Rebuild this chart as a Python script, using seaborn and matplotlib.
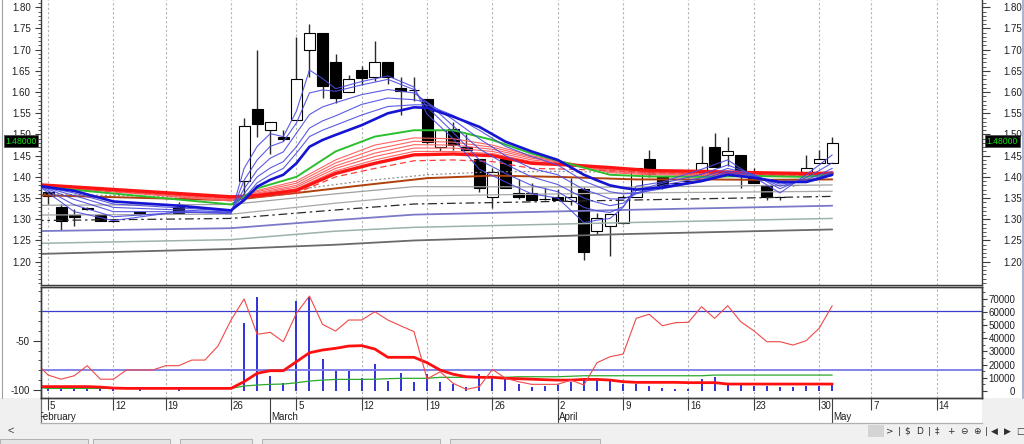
import numpy as np
import matplotlib
matplotlib.use("Agg")
import matplotlib.pyplot as plt
from matplotlib.ticker import FixedLocator, FormatStrFormatter
from matplotlib.patches import Rectangle
from matplotlib.transforms import blended_transform_factory
import seaborn as sns

nan = np.nan

# ---------------- data ----------------
DAY = list(range(61))
OPEN = [1.365, 1.330, 1.310, 1.327, 1.310, 1.295, nan, 1.316, nan, nan, 1.330, nan, nan, nan, nan,
        1.390, 1.560, 1.510, 1.495, 1.535, 1.700, 1.740, 1.670, 1.600, 1.652, 1.635, 1.670, 1.610, 1.605,
        1.583, 1.470, 1.513, 1.471, 1.442, 1.352, 1.442, 1.362, 1.361, 1.347, 1.352, 1.343, 1.372, 1.272, 1.284, 1.292,
        1.353, 1.442, 1.400, 1.385, 1.390, 1.405, 1.471, 1.452, 1.452, 1.408, 1.382, 1.352, 1.380, 1.411, 1.432, 1.432]
HIGH = [1.365, 1.335, 1.325, 1.330, 1.310, 1.297, nan, 1.318, nan, nan, 1.340, nan, nan, nan, nan,
        1.540, 1.700, 1.530, 1.510, 1.730, 1.760, 1.740, 1.690, 1.640, 1.662, 1.720, 1.670, 1.635, 1.635,
        1.583, 1.510, 1.530, 1.500, 1.442, 1.420, 1.447, 1.395, 1.385, 1.373, 1.371, 1.398, 1.377, 1.315, 1.312, 1.358,
        1.422, 1.463, 1.400, 1.388, 1.392, 1.473, 1.503, 1.495, 1.452, 1.420, 1.382, 1.353, 1.382, 1.452, 1.463, 1.493]
LOW = [1.335, 1.275, 1.285, 1.322, 1.295, 1.293, nan, 1.310, nan, nan, 1.315, nan, nan, nan, nan,
       1.355, 1.495, 1.455, 1.485, 1.535, 1.635, 1.585, 1.575, 1.600, 1.617, 1.625, 1.620, 1.545, 1.580,
       1.478, 1.460, 1.463, 1.463, 1.365, 1.326, 1.373, 1.347, 1.346, 1.346, 1.346, 1.334, 1.204, 1.265, 1.213, 1.290,
       1.353, 1.400, 1.372, 1.383, 1.388, 1.405, 1.424, 1.425, 1.373, 1.385, 1.345, 1.345, 1.378, 1.411, 1.432, 1.432]
CLOSE = [1.355, 1.295, 1.305, 1.325, 1.295, 1.295, nan, 1.314, nan, nan, 1.315, nan, nan, nan, nan,
         1.520, 1.525, 1.530, 1.490, 1.630, 1.740, 1.615, 1.585, 1.630, 1.634, 1.670, 1.635, 1.603, 1.605,
         1.483, 1.510, 1.475, 1.463, 1.373, 1.412, 1.373, 1.353, 1.346, 1.347, 1.346, 1.352, 1.222, 1.304, 1.312, 1.353,
         1.422, 1.406, 1.375, 1.385, 1.390, 1.432, 1.424, 1.462, 1.410, 1.385, 1.353, 1.352, 1.380, 1.422, 1.442, 1.480]
VOLUME = [3500, 3000, 3000, 2500, 3000, 1500, 0, 1500, 0, 0, 2000, 0, 0, 0, 0,
          51900, 71800, 11200, 6100, 68700, 71800, 24200, 15300, 15300, 9400, 20400, 7400, 13700, 6900,
          12700, 6900, 5100, 2600, 12500, 10700, 9400, 5100, 2600, 3600, 4400, 6900, 8200, 8200, 7400, 5100,
          5100, 3600, 1800, 1000, 1000, 8900, 10700, 5600, 5100, 3600, 3600, 3100, 2600, 3600, 3600, 5100]

# short-term (blue) averages
B_IDX = [-1, 2, 5, 10, 14, 15, 16, 17, 18, 19, 20, 21, 22, 24, 26, 28, 29, 31, 33, 35, 37, 39, 41, 42, 43, 44,
         45, 47, 50, 52, 54, 56, 58, 59, 60]
BLUE1 = [1.385, 1.318, 1.297, 1.318, 1.313, 1.420, 1.472, 1.502, 1.495, 1.555, 1.652, 1.632, 1.608, 1.625, 1.638,
         1.612, 1.548, 1.490, 1.418, 1.388, 1.360, 1.350, 1.292, 1.298, 1.302, 1.328, 1.378, 1.388, 1.418, 1.440,
         1.400, 1.362, 1.405, 1.428, 1.452]
BLUE2 = [1.384, 1.334, 1.306, 1.316, 1.315, 1.392, 1.440, 1.472, 1.483, 1.527, 1.598, 1.605, 1.602, 1.617, 1.630,
         1.606, 1.565, 1.505, 1.440, 1.408, 1.380, 1.365, 1.328, 1.320, 1.316, 1.330, 1.368, 1.385, 1.406, 1.428,
         1.405, 1.372, 1.398, 1.415, 1.433]
BLUE3 = [1.383, 1.347, 1.318, 1.318, 1.316, 1.372, 1.416, 1.444, 1.459, 1.503, 1.547, 1.565, 1.575, 1.594, 1.606,
         1.598, 1.576, 1.520, 1.466, 1.430, 1.400, 1.382, 1.350, 1.340, 1.332, 1.338, 1.362, 1.380, 1.398, 1.420,
         1.405, 1.378, 1.393, 1.405, 1.420]
BLUE4 = [1.382, 1.356, 1.328, 1.322, 1.317, 1.360, 1.400, 1.421, 1.436, 1.471, 1.515, 1.532, 1.544, 1.571, 1.586,
         1.582, 1.576, 1.535, 1.490, 1.450, 1.420, 1.405, 1.370, 1.360, 1.348, 1.348, 1.360, 1.376, 1.393, 1.414,
         1.403, 1.383, 1.390, 1.400, 1.413]
BLUE5 = [1.381, 1.362, 1.336, 1.327, 1.319, 1.350, 1.386, 1.405, 1.420, 1.456, 1.495, 1.510, 1.522, 1.546, 1.566,
         1.570, 1.570, 1.545, 1.510, 1.472, 1.448, 1.428, 1.390, 1.378, 1.365, 1.360, 1.362, 1.372, 1.390, 1.410,
         1.400, 1.387, 1.388, 1.398, 1.408]
BLUE_THICK = [1.380, 1.367, 1.342, 1.332, 1.321, 1.345, 1.377, 1.393, 1.405, 1.432, 1.471, 1.487, 1.499, 1.522,
              1.550, 1.564, 1.563, 1.542, 1.518, 1.483, 1.460, 1.440, 1.405, 1.392, 1.380, 1.374, 1.370, 1.375,
              1.390, 1.405, 1.398, 1.388, 1.388, 1.396, 1.405]

# long-term (red / green) averages
R_IDX = [-1, 14, 16, 19, 22, 25, 28, 31, 34, 37, 40, 43, 46, 50, 54, 58, 60]
GREEN = [1.378, 1.335, 1.373, 1.400, 1.460, 1.495, 1.510, 1.510, 1.487, 1.455, 1.430, 1.405, 1.401, 1.400, 1.402, 1.400, 1.406]
RED1 = [1.379, 1.343, 1.368, 1.390, 1.440, 1.475, 1.492, 1.490, 1.475, 1.450, 1.432, 1.410, 1.405, 1.403, 1.404, 1.402, 1.407]
RED2 = [1.380, 1.345, 1.365, 1.385, 1.433, 1.465, 1.484, 1.482, 1.470, 1.447, 1.432, 1.413, 1.407, 1.405, 1.405, 1.403, 1.407]
RED3 = [1.380, 1.347, 1.362, 1.380, 1.426, 1.456, 1.476, 1.475, 1.465, 1.444, 1.431, 1.416, 1.409, 1.407, 1.406, 1.404, 1.407]
RED4 = [1.381, 1.349, 1.360, 1.376, 1.420, 1.448, 1.468, 1.468, 1.460, 1.440, 1.430, 1.418, 1.411, 1.409, 1.407, 1.405, 1.408]
RED5 = [1.381, 1.351, 1.358, 1.372, 1.414, 1.440, 1.460, 1.460, 1.455, 1.436, 1.428, 1.420, 1.413, 1.411, 1.408, 1.406, 1.408]
RED_THICK = [1.382, 1.353, 1.356, 1.368, 1.408, 1.432, 1.452, 1.454, 1.450, 1.432, 1.428, 1.422, 1.415, 1.413, 1.410, 1.408, 1.409]
RED_DASHED = [1.376, 1.350, 1.352, 1.362, 1.400, 1.420, 1.438, 1.440, 1.436, 1.420, 1.418, 1.415, 1.410, 1.408, 1.405, 1.403, 1.404]

M_IDX = [-1, 14, 19, 24, 29, 34, 39, 45, 50, 55, 60]
BROWN = [1.357, 1.345, 1.362, 1.380, 1.397, 1.403, 1.400, 1.394, 1.394, 1.393, 1.394]
DOTTED = [1.360, 1.350, 1.370, 1.390, 1.405, 1.412, 1.413, 1.410, 1.405, 1.402, 1.402]

L_IDX = [-1, 14, 22, 28, 44, 60]
GRAY_A = [1.333, 1.335, 1.360, 1.377, 1.376, 1.381]
GRAY_B = [1.310, 1.312, 1.338, 1.355, 1.362, 1.366]
DASHDOT = [1.297, 1.302, 1.322, 1.336, 1.345, 1.354]
SLATE = [1.272, 1.279, 1.298, 1.311, 1.322, 1.332]
GRAYGREEN = [1.243, 1.252, 1.272, 1.281, 1.292, 1.302]
DARKGRAY = [1.218, 1.230, 1.240, 1.250, 1.265, 1.276]

# oscillator panel
OSC_IDX = [-0.5] + DAY
WPR = [-78, -84.8, -89, -85.5, -75.3, -89, -89, -79.7, -79.7, -79.7, -75.3, -75.3, -69.6, -69.6, -55.4, -29,
       -7.7, -43.5, -41.5, -51, -22.2, -4.7, -33.4, -40.2, -29, -29, -20.6, -29, -35, -40.8,
       -88.8, -81.4, -93.2, -99.3, -96.6, -79, -88.1, -91.5, -94.2, -94.2, -94.2, -89.9, -94.9, -72.3, -66.2,
       -63.5, -27.3, -23.2, -34.8, -31.7, -31.3, -15.5, -27.3, -14.5, -30.7, -39.9, -51, -51, -54.4, -50, -37.4, -14.5]
WPR_MA = [-96.5, -96.5, -96.5, -96.5, -96.5, -97, -98, -98.3, -98.3, -98.3, -98.3, -98.3, -98.3, -98.3, -98.3, -98.3,
          -91.5, -83, -80.4, -80.4, -71.3, -62.2, -59.4, -57.7, -55.4, -55, -58.4, -66.8, -66.8, -66.8,
          -72.3, -79.7, -84, -86.5, -87.1, -87.1, -88.1, -88.5, -89, -89.5, -89.9, -89.9, -89.2, -89.2, -89.9,
          -91.5, -92.2, -92.2, -92.2, -92.2, -92.5, -92.5, -92.5, -93.9, -93.9, -93.9, -93.9, -93.9, -93.9, -93.9,
          -93.9, -93.9]
WPR_SLOW = [-97.7, -98.3, -98.3, -98.3, -98.3, -98.3, -98.3, -98.3, -98.3, -98.3, -98.3, -98.3, -98.3, -98.3, -98.3, -98.3,
            -95.9, -94.9, -94.2, -93.9, -92.6, -90.9, -89.9, -89.2, -89.2, -89.2, -89, -88.5, -88.1, -88.1,
            -88.1, -87.1, -87.1, -87.1, -87.1, -87.1, -87.1, -86.5, -86.5, -86.5, -86.5, -86, -85.5, -85.5, -85.5,
            -85.5, -85.5, -85.5, -85.5, -85.5, -85.5, -85.5, -84.8, -84.8, -84.8, -84.8, -84.8, -84.8, -84.8, -84.8,
            -84.8, -84.8]
OSC_LEVELS = [-20, -80]

WEEK_IDX = [0, 5, 9, 14, 19, 24, 29, 34, 39, 44, 49, 54, 59, 63, 68]
WEEK_LABELS = ["5", "12", "19", "26", "5", "12", "19", "26", "2", "9", "16", "23", "30", "7", "14"]
MONTH_IDX = [-0.95, 17, 39, 60]
MONTH_LABELS = ["February", "March", "April", "May"]

PRICE_TICKS = [1.20, 1.25, 1.30, 1.35, 1.40, 1.45, 1.50, 1.55, 1.60, 1.65, 1.70, 1.75, 1.80]
VOL_TICKS = [0, 10000, 20000, 30000, 40000, 50000, 60000, 70000]
OSC_TICKS = [-100, -50]

# ---------------- figure ----------------
sns.set_theme(style="white")
plt.rcParams['font.family'] = ['Liberation Sans', 'DejaVu Sans']
plt.rcParams['axes.linewidth'] = 0.9

W, H = 1024, 444
fig = plt.figure(figsize=(W / 100, H / 100), dpi=100, facecolor='white')


def box(l, t, r, b):
    return [l / W, 1 - b / H, (r - l) / W, (b - t) / H]


def prect(l, t, r, b, **kw):
    fig.add_artist(Rectangle((l / W, 1 - b / H), (r - l) / W, (b - t) / H,
                             transform=fig.transFigure, **kw))


PL, PR = 41, 982
XL = (-0.54, 71.46)
SPINE = '#3c3c3c'
TXT = '#202020'

# gray chrome regions
prect(0, 423, W, H, facecolor='#f0f0f0', edgecolor='none', zorder=-5)
prect(PR, 398, W, 423, facecolor='#f0f0f0', edgecolor='none', zorder=-5)
prect(0, 398, PL, 423, facecolor='#f0f0f0', edgecolor='none', zorder=-5)

ax1 = fig.add_axes(box(PL, 0, PR, 285))
ax2 = fig.add_axes(box(PL, 287, PR, 398))
ax2r = ax2.twinx()
axd = fig.add_axes(box(PL, 398, PR, 423))
ax1r = ax1.twinx()


def sline(ax, x, y, color, lw, ls='-', z=3, alpha=1.0):
    sns.lineplot(x=x, y=y, ax=ax, color=color, linewidth=lw, linestyle=ls, zorder=z,
                 alpha=alpha, estimator=None, sort=False, legend=False)


# ---- price panel ----
for w in WEEK_IDX:
    ax1.axvline(w, color='#b4b4b4', lw=0.8, ls=(0, (2, 2)), zorder=0.5)

o = np.array(OPEN); h = np.array(HIGH); l = np.array(LOW); c = np.array(CLOSE)
d = np.array(DAY)
valid = ~np.isnan(o)
ax1.vlines(d[valid], l[valid], h[valid], color='#2a2a2a', lw=1.0, zorder=1)
bottom = np.minimum(o, c)[valid]
height = np.maximum(np.abs(c - o)[valid], 0.0008)
fill = np.where(c[valid] >= o[valid], 'white', 'black')
ax1.bar(d[valid], height, bottom=bottom, width=0.84, color=fill, edgecolor='black',
        linewidth=0.8, zorder=1.5)

sline(ax1, L_IDX, DARKGRAY, '#6a6a6a', 1.3, z=2)
sline(ax1, L_IDX, GRAYGREEN, '#9db2aa', 1.1, z=2)
sline(ax1, L_IDX, SLATE, '#7a7ac8', 1.3, z=2)
sline(ax1, L_IDX, DASHDOT, '#2a2a2a', 0.9, ls=(0, (7, 3, 2, 3)), z=2)
sline(ax1, L_IDX, GRAY_B, '#a8a8a8', 0.9, z=2)
sline(ax1, L_IDX, GRAY_A, '#a0a0a0', 0.9, z=2)
sline(ax1, M_IDX, DOTTED, '#8c8c8c', 0.9, ls=(0, (1.5, 2)), z=2)
sline(ax1, M_IDX, BROWN, '#b0400c', 1.4, z=2.2)

for series in (RED5, RED4, RED3, RED2, RED1):
    sline(ax1, R_IDX, series, '#ff6262', 0.8, z=2.4)
sline(ax1, R_IDX, RED_DASHED, '#ff3c3c', 0.9, ls=(0, (5, 3)), z=2.4)
sline(ax1, R_IDX, RED_THICK, '#ff1414', 2.4, z=2.5)
sline(ax1, R_IDX, GREEN, '#2cbf2c', 1.4, z=2.6)

for series in (BLUE5, BLUE4, BLUE3, BLUE2, BLUE1):
    sline(ax1, B_IDX, series, '#4a4ae0', 0.8, z=3, alpha=0.9)
sline(ax1, B_IDX, BLUE_THICK, '#1414d2', 1.9, z=3.2)

for a in (ax1, ax1r):
    a.set_xlim(XL)
    a.set_ylim(1.145, 1.8172)
    a.yaxis.set_major_locator(FixedLocator(PRICE_TICKS))
    a.yaxis.set_minor_locator(FixedLocator(np.round(np.arange(1.15, 1.815, 0.01), 2)))
    a.yaxis.set_major_formatter(FormatStrFormatter('%.2f'))
    a.set_xticks([])
    a.set_xlabel(''); a.set_ylabel('')
ax1.tick_params(axis='y', which='major', left=True, right=False, length=4, width=0.8, pad=3.5,
                labelsize=7, color=SPINE, labelcolor=TXT)
ax1.tick_params(axis='y', which='minor', left=True, right=False, length=2, width=0.6, color=SPINE)
ax1r.tick_params(axis='y', which='major', right=True, left=False, length=6, width=0.8, pad=9,
                 labelsize=7, color=SPINE, labelcolor=TXT)
ax1r.tick_params(axis='y', which='minor', right=True, left=False, length=3, width=0.6, color=SPINE)
for s in ax1r.spines.values():
    s.set_visible(False)
ax1.spines['top'].set_visible(False)
for k in ('left', 'right', 'bottom'):
    ax1.spines[k].set_color(SPINE)
    ax1.spines[k].set_linewidth(1.0)

# last price tags
last = f"{CLOSE[-1]:.5f}"
tr = blended_transform_factory(ax1.transAxes, ax1.transData)
for xa in ((21 - PL) / (PR - PL), (1002.5 - PL) / (PR - PL)):
    ax1.text(xa, CLOSE[-1] + 0.004, last, transform=tr, ha='center', va='center', fontsize=6.2,
             color='#10e010', clip_on=False, zorder=20,
             bbox=dict(boxstyle='square,pad=0.18', fc='black', ec='#505050', lw=0.6))

# ---- oscillator / volume panel ----
ax2.set_zorder(2)
ax2r.set_zorder(1)
ax2.patch.set_visible(False)
ax2r.patch.set_visible(True)
ax2r.patch.set_facecolor('white')

for w in WEEK_IDX:
    ax2r.axvline(w, color='#b4b4b4', lw=0.8, ls=(0, (2, 2)), zorder=0.5)
ax2r.vlines(DAY, 0, VOLUME, color='#3030dc', lw=1.4, zorder=2)

ax2.axhline(OSC_LEVELS[0], color='#3c3cd0', lw=0.9, zorder=1)
ax2.axhline(OSC_LEVELS[1], color='#7a7ae6', lw=1.3, zorder=1)
sline(ax2, OSC_IDX, WPR_SLOW, '#2ca82c', 0.9, z=2)
sline(ax2, OSC_IDX, WPR_MA, '#ff1010', 2.0, z=2.2)
sline(ax2, OSC_IDX, WPR, '#f04848', 0.8, z=2.4)

ax2.set_xlim(XL); ax2r.set_xlim(XL)
ax2.set_ylim(-108.05, 4.46)
ax2r.set_ylim(-5570, 79160)
ax2.set_xticks([]); ax2r.set_xticks([])
ax2.set_xlabel(''); ax2.set_ylabel(''); ax2r.set_ylabel('')
ax2.yaxis.set_major_locator(FixedLocator(OSC_TICKS))
ax2.yaxis.set_minor_locator(FixedLocator(list(range(-100, 1, 10))))
ax2.yaxis.set_major_formatter(FormatStrFormatter('%d'))
ax2.tick_params(axis='y', which='major', left=True, right=False, length=5.5, width=0.8, pad=2.5,
                labelsize=7, color=SPINE, labelcolor=TXT)
ax2.tick_params(axis='y', which='minor', left=True, right=False, length=2.5, width=0.6, color=SPINE)
ax2r.yaxis.set_major_locator(FixedLocator(VOL_TICKS))
ax2r.yaxis.set_minor_locator(FixedLocator(list(range(0, 75001, 5000))))
ax2r.yaxis.set_major_formatter(FormatStrFormatter('%d'))
ax2r.tick_params(axis='y', which='major', right=True, left=False, length=3.5, width=0.8, pad=20.5,
                 labelsize=7, color=SPINE, labelcolor=TXT)
ax2r.tick_params(axis='y', which='minor', right=True, left=False, length=2, width=0.6, color=SPINE)
for lab in ax2r.get_yticklabels():
    lab.set_horizontalalignment('right')
for a in (ax2, ax2r):
    for s in a.spines.values():
        s.set_color(SPINE)
        s.set_linewidth(1.0)

# ---- date band ----
axd.set_xlim(XL); axd.set_ylim(0, 1)
axd.set_xticks([]); axd.set_yticks([])
axd.patch.set_facecolor('white')
for k in ('top', 'right'):
    axd.spines[k].set_visible(False)
axd.spines['left'].set_color('#707070')
axd.spines['bottom'].set_color('#b0b0b0')
axd.vlines(WEEK_IDX, 0.52, 1.0, color='#404040', lw=0.8)
axd.vlines(MONTH_IDX[1:], 0.0, 1.0, color='#404040', lw=0.8)
for w, t in zip(WEEK_IDX, WEEK_LABELS):
    axd.text(w + 0.15, 0.70, t, fontsize=7, color=TXT, ha='left', va='center', clip_on=True)
for m, t in zip(MONTH_IDX, MONTH_LABELS):
    axd.text(m + 0.1, 0.24, t, fontsize=7, color=TXT, ha='left', va='center', clip_on=True)

# ---- window chrome ----
fig.add_artist(plt.Line2D([2 / W, 2 / W], [1 - 398 / H, 1], transform=fig.transFigure,
                          color='#a0a0a0', lw=0.8, zorder=5))
fig.add_artist(plt.Line2D([1022.5 / W, 1022.5 / W], [1 - 398 / H, 1], transform=fig.transFigure,
                          color='#a9b8cf', lw=1.5, zorder=5))
fig.text(7 / W, 1 - 431 / H, '<', fontsize=8, color='#404040', ha='left', va='center')
prect(868, 425, 884, 437, facecolor='#d4d4d4', edgecolor='none', zorder=5)
icons = [(890, '>'), (899, '|'), (907, '$'), (920, 'D'), (929, '|'), (937, '‡'), (951, '+'),
         (964, '⊖'), (977, '⊕'), (986, '|'), (994, '◀'), (1007, '▶'), (1020, '□')]
for xp, g in icons:
    fig.text(xp / W, 1 - 431 / H, g, fontsize=6.5, color='#303030', ha='center', va='center',
             family=['DejaVu Sans'], zorder=6)
for (a, b) in [(0, 88), (93, 170), (180, 252), (262, 440), (450, 600)]:
    prect(a, 439, b, 446, facecolor='#e4e4e4', edgecolor='#a8a8a8', lw=0.6, zorder=5)

fig.savefig('out.png', dpi=100, facecolor=fig.get_facecolor())
